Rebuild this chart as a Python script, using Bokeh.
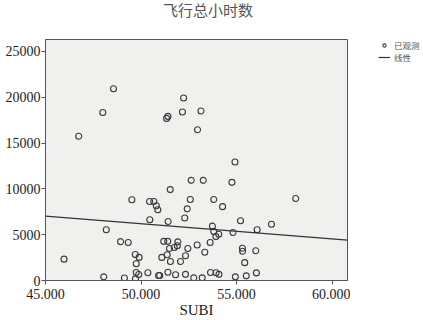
from bokeh.plotting import figure
from bokeh.layouts import column, row
from bokeh.models import (Range1d, FixedTicker, NumeralTickFormatter, Legend, LegendItem, Div)
from bokeh.embed import file_html
from bokeh.resources import INLINE

subi = [46.74, 48.00, 48.56, 51.34, 51.41, 52.23, 52.17, 53.14, 52.96, 54.92,
        52.63, 53.26, 54.76, 51.53, 58.10, 49.52, 50.45, 50.67, 50.80, 50.88,
        52.58, 53.81, 52.42, 54.27, 50.46, 51.42, 52.29, 55.21, 56.83, 48.18,
        53.74, 56.08, 53.81, 54.07, 53.92, 54.82, 48.93, 49.33, 51.19, 51.40,
        51.93, 51.90, 51.74, 51.49, 52.45, 52.94, 53.62, 55.31, 55.32, 56.01,
        53.34, 51.37, 51.09, 52.33, 51.54, 52.07, 55.43, 45.97, 49.70, 49.90,
        49.75, 49.75, 49.88, 49.71, 48.05, 49.13, 50.36, 50.92, 50.98, 51.41,
        51.81, 52.33, 52.76, 53.20, 53.64, 53.93, 54.08, 54.94, 55.51, 56.04]
hours = [15740, 18340, 20920, 17690, 17910, 19910, 18390, 18500, 16450, 12930,
         10930, 10930, 10710, 9920, 8950, 8820, 8620, 8620, 8150, 7720,
         8840, 8840, 7820, 8060, 6630, 6440, 6820, 6520, 6140, 5540,
         5930, 5540, 5360, 5050, 4790, 5230, 4240, 4140, 4270, 4270,
         4220, 3790, 3600, 3500, 3500, 3870, 4140, 3520, 3190, 3250,
         3080, 2810, 2520, 2700, 2080, 2080, 1950, 2330, 2840, 2520,
         1820, 870, 650, 180, 400, 270, 840, 540, 540, 900,
         630, 670, 290, 290, 870, 840, 670, 400, 510, 830]

# Linear fit line as drawn in the picture (end points of the plotted range)
fit_x = [45.0, 60.81]
fit_y = [7030, 4400]

x_ticks = [45, 50, 55, 60]
y_ticks = [0, 5000, 10000, 15000, 20000, 25000]

title_text = "飞行总小时数"
x_label = "SUBI"
legend_labels = ["已观测", "线性"]

title = Div(text=title_text, width=423, height=30, margin=0,
            styles={"font-family": "'Noto Sans CJK SC'", "font-size": "15px",
                    "color": "#555555", "text-align": "center",
                    "line-height": "20px", "padding-right": "7px",
                    "box-sizing": "border-box", "width": "423px"})

p = figure(width=350, height=290, output_backend="svg", toolbar_location=None,
           x_range=Range1d(45.0, 60.81), y_range=Range1d(0, 26300),
           min_border_left=45, min_border_right=3, min_border_top=7,
           min_border_bottom=40, margin=0)

p.background_fill_color = "#f0f0ef"
p.border_fill_color = "white"
p.outline_line_color = "#555555"
p.outline_line_width = 1
p.xgrid.visible = False
p.ygrid.visible = False

for ax in (p.xaxis[0], p.yaxis[0]):
    ax.axis_line_color = "#555555"
    ax.major_tick_line_color = "#555555"
    ax.major_tick_out = 4
    ax.major_tick_in = 0
    ax.minor_tick_line_color = None
    ax.major_label_text_font = "Liberation Serif"
    ax.major_label_text_font_size = "14px"
    ax.major_label_text_color = "#222222"

p.xaxis[0].major_label_standoff = 4
p.yaxis[0].major_label_standoff = 1

p.xaxis[0].ticker = FixedTicker(ticks=x_ticks)
p.xaxis[0].formatter = NumeralTickFormatter(format="0.000")
p.yaxis[0].ticker = FixedTicker(ticks=y_ticks)
p.yaxis[0].formatter = NumeralTickFormatter(format="0")
p.xaxis[0].axis_label = x_label
p.xaxis[0].axis_label_text_font = "Liberation Serif"
p.xaxis[0].axis_label_text_font_size = "15px"
p.xaxis[0].axis_label_text_font_style = "normal"
p.xaxis[0].axis_label_text_color = "#222222"
p.xaxis[0].axis_label_standoff = 0

pt_style = dict(marker="circle", size=6, fill_color=None,
                line_color="#3a3a3a", line_width=1.1)
fit_style = dict(line_color="#333333", line_width=1.2)

p.scatter(subi, hours, **pt_style)
p.line(fit_x, fit_y, **fit_style)

# Small companion figure that only carries the legend (outside the plot frame).
# Its renderers reuse the first observation / the fit line, out of its view.
lg = figure(width=73, height=290, output_backend="svg", toolbar_location=None,
            x_axis_location=None, y_axis_location=None,
            x_range=Range1d(0, 1), y_range=Range1d(0, 1),
            min_border_left=28, min_border_top=9, min_border_right=0,
            min_border_bottom=0, margin=0)
lg.outline_line_color = None
lg.background_fill_color = "white"
lg.border_fill_color = "white"
lg.xgrid.visible = False
lg.ygrid.visible = False
lg_pts = lg.scatter(subi[:1], hours[:1], **pt_style)
lg_fit = lg.line(fit_x, fit_y, **fit_style)

legend = Legend(items=[LegendItem(label=legend_labels[0], renderers=[lg_pts]),
                       LegendItem(label=legend_labels[1], renderers=[lg_fit])],
                location="top_left", background_fill_alpha=0,
                border_line_alpha=0, padding=0, margin=0, spacing=-4,
                glyph_width=12, glyph_height=8, label_height=8,
                label_standoff=4,
                label_text_font="Noto Sans CJK SC",
                label_text_font_size="8.5px", label_text_color="#555555")
lg.add_layout(legend)

layout = column(title, row(p, lg, spacing=0, margin=0), spacing=0, margin=0)

open("out.html", "w").write(file_html(layout, INLINE))
